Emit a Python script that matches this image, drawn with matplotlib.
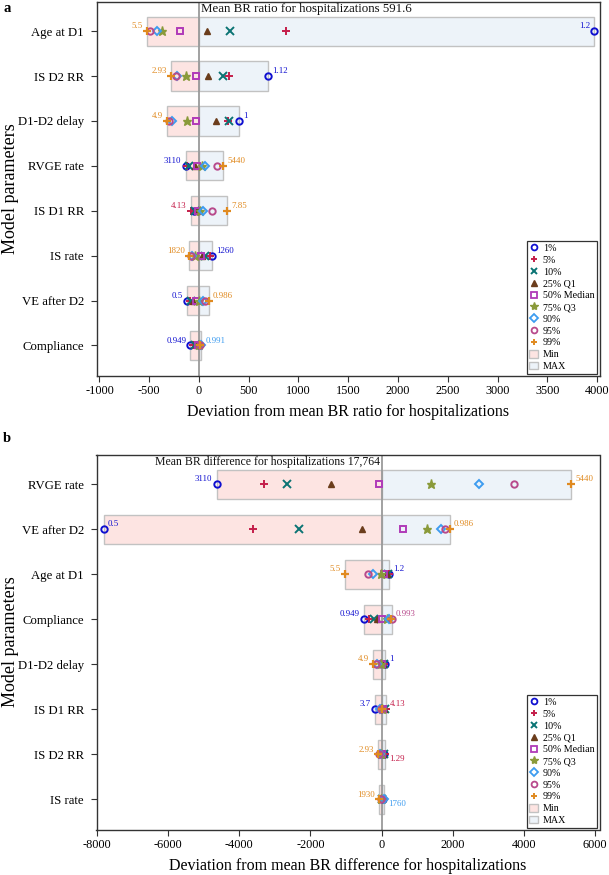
import matplotlib
matplotlib.use('Agg')
import matplotlib.pyplot as plt
from matplotlib.lines import Line2D
from matplotlib.patches import Patch
import numpy as np

plt.rcParams['font.family'] = ['Liberation Serif', 'DejaVu Serif']

# ---------------- data ----------------
pct_names = ["1%", "5%", "10%", "25% Q1", "50% Median", "75% Q3", "90%", "95%", "99%"]
pct_colors = ["#1010d0", "#c41e4a", "#0b7474", "#6b3d1c", "#b03ab8",
              "#8a9a3a", "#3d9cf0", "#b84a8c", "#e08a20"]
pct_markers = ['o', '+', 'x', '^', 's', '*', 'D', 'o', '+']

# Panel a : deviation from mean BR ratio
cats_a = ["Age at D1", "IS D2 RR", "D1-D2 delay", "RVGE rate",
          "IS D1 RR", "IS rate", "VE after D2", "Compliance"]
age_a = [3970, 871, 315, 83, -191, -375, -422, -490, -526]
isd2_a = [690, 305, 238, 94, -27, -131, -225, -231, -281]
delay_a = [399, 295, 305, 174, -27, -124, -271, -300, -318]
rvge_a = [-134, -118, -97, -40, -17, 30, 57, 184, 245]
isd1_a = [-50, -80, -40, -25, -10, 15, 37, 134, 285]
israte_a = [128, 112, 60, 30, 20, -45, -70, -80, -100]
ve_a = [-124, -95, -80, -65, -35, 0, 40, 65, 100]
compl_a = [-87, -57, -40, -25, -10, 0, 25, 15, 10]
vals_a = [age_a, isd2_a, delay_a, rvge_a, isd1_a, israte_a, ve_a, compl_a]
left_labels_a = ["5.5", "2.93", "4.9", "3110", "4.13", "1820", "0.5", "0.949"]
right_labels_a = ["1.2", "1.12", "1", "5440", "7.85", "1260", "0.986", "0.991"]
right_pos_a = ["up"] * 8
mean_text_a = "Mean BR ratio for hospitalizations 591.6"
xticks_a = list(range(-1000, 4001, 500))
xlim_a = (-1030, 4025)
xlabel_a = "Deviation from mean BR ratio for hospitalizations"

# Panel b : deviation from mean BR difference
cats_b = ["RVGE rate", "VE after D2", "Age at D1", "Compliance",
          "D1-D2 delay", "IS D1 RR", "IS D2 RR", "IS rate"]
rvge_b = [-4635, -3297, -2671, -1426, -70, 1380, 2736, 3709, 5337]
ve_b = [-7814, -3605, -2315, -547, 595, 1285, 1669, 1773, 1913]
age_b = [210, 200, 191, 154, 70, -22, -230, -379, -1024]
compl_b = [-491, -351, -210, -117, 23, 154, 210, 285, 260]
delay_b = [90, 70, 55, 35, 10, -20, -140, -170, -239]
isd1_b = [-191, 117, 95, 70, 40, 10, -40, -10, 25]
isd2_b = [60, 90, 70, 40, 15, -10, -40, -60, -107]
israte_b = [40, 30, 20, 10, 0, -10, 70, -30, -62]
vals_b = [rvge_b, ve_b, age_b, compl_b, delay_b, isd1_b, isd2_b, israte_b]
left_labels_b = ["3110", "0.5", "5.5", "0.949", "4.9", "3.7", "2.93", "1930"]
right_labels_b = ["5440", "0.986", "1.2", "0.993", "1", "4.13", "1.29", "1760"]
right_pos_b = ["up", "up", "up", "up", "up", "up", "down", "down"]
mean_text_b = "Mean BR difference for hospitalizations 17,764"
xticks_b = list(range(-8000, 6001, 2000))
xlim_b = (-8015, 6126)
xlabel_b = "Deviation from mean BR difference for hospitalizations"

MIN_COLOR = "#fde4e2"
MAX_COLOR = "#edf3f9"
BAR_EDGE = "#c2c2c2"

W, H = 609, 875
fig = plt.figure(figsize=(W / 100, H / 100), dpi=100)


def px_axes(left, top, right, bottom):
    return [left / W, 1 - bottom / H, (right - left) / W, (bottom - top) / H]


def draw_panel(ax, cats, vals, left_labels, right_labels, right_pos,
               mean_text, mean_side, mean_size, xticks, xlim, xlabel):
    n = len(cats)
    y = np.arange(n)
    ax.set_xlim(*xlim)
    ax.set_ylim(n - 1 + 0.68, -0.65)
    fig.canvas.draw()
    for i, v in enumerate(vals):
        vmin, vmax = min(v), max(v)
        ax.barh(i, vmin, left=0, height=0.65, color=MIN_COLOR,
                edgecolor=BAR_EDGE, linewidth=1.0, zorder=1)
        ax.barh(i, vmax, left=0, height=0.65, color=MAX_COLOR,
                edgecolor=BAR_EDGE, linewidth=1.0, zorder=1)
    ax.axvline(0, color="#9a9a9a", lw=1.3, zorder=2)
    for j in range(9):
        xs = [v[j] for v in vals]
        m = pct_markers[j]
        kw = dict(linestyle='none', marker=m, zorder=3 + j * 0.01)
        if m in ('o', 's', 'D'):
            ms = 4.6 if m != 'D' else 4.2
            ax.plot(xs, y, markerfacecolor='none', markeredgecolor=pct_colors[j],
                    markersize=ms, markeredgewidth=1.4, **kw)
        elif m in ('+', 'x'):
            ax.plot(xs, y, color=pct_colors[j], markersize=5.5,
                    markeredgewidth=1.6 if j == 8 else 1.4, **kw)
        elif m == '^':
            ax.plot(xs, y, color=pct_colors[j], markersize=5, **kw)
        else:
            ax.plot(xs, y, color=pct_colors[j], markersize=6.5, **kw)
    # value labels
    bb = ax.get_window_extent()
    for i, v in enumerate(vals):
        jmin = int(np.argmin(v))
        jmax = int(np.argmax(v))
        xmin_px = ax.transData.transform((v[jmin], i))[0]
        xmax_px = ax.transData.transform((v[jmax], i))[0]
        if xmin_px - bb.x0 < 25:
            off, ha = 3, 'left'
        else:
            off, ha = -3, 'right'
        ax.annotate(left_labels[i], xy=(v[jmin], i), xytext=(off, 3.5),
                    textcoords='offset points', ha=ha, va='center',
                    fontsize=6.4, color=pct_colors[jmin], zorder=5)
        if bb.x1 - xmax_px < 25:
            off, ha = -3, 'right'
        else:
            off, ha = 3, 'left'
        dy = 3.5 if right_pos[i] == 'up' else -3.5
        ax.annotate(right_labels[i], xy=(v[jmax], i), xytext=(off, dy),
                    textcoords='offset points', ha=ha, va='center',
                    fontsize=6.4, color=pct_colors[jmax], zorder=5)
    # mean text
    if mean_side == 'right':
        ax.annotate(mean_text, xy=(0, 1), xycoords=('data', 'axes fraction'),
                    xytext=(1.5, -4.8), textcoords='offset points',
                    ha='left', va='center', fontsize=mean_size, color='#111111')
    else:
        ax.annotate(mean_text, xy=(0, 1), xycoords=('data', 'axes fraction'),
                    xytext=(-1.5, -4.8), textcoords='offset points',
                    ha='right', va='center', fontsize=mean_size, color='#111111')
    ax.set_yticks(y)
    ax.set_yticklabels(cats, fontsize=9.2)
    ax.set_xticks(xticks)
    ax.set_xticklabels([str(t) for t in xticks], fontsize=8.8)
    ax.tick_params(axis='both', direction='out', length=4, width=0.8,
                   color='#333333', pad=2.5)
    ax.tick_params(axis='y', pad=5)
    ax.set_xlabel(xlabel, fontsize=11.5, labelpad=5)
    for s in ax.spines.values():
        s.set_color('#333333')
        s.set_linewidth(1.0)
    handles = []
    for j in range(9):
        m = pct_markers[j]
        if m in ('o', 's', 'D'):
            h = Line2D([], [], linestyle='none', marker=m, markerfacecolor='none',
                       markeredgecolor=pct_colors[j], markersize=4.2 if m != 'D' else 3.8,
                       markeredgewidth=1.3)
        elif m == '*':
            h = Line2D([], [], linestyle='none', marker=m, color=pct_colors[j], markersize=6)
        elif m == '^':
            h = Line2D([], [], linestyle='none', marker=m, color=pct_colors[j], markersize=4.5)
        else:
            h = Line2D([], [], linestyle='none', marker=m, color=pct_colors[j],
                       markersize=5, markeredgewidth=1.4)
        handles.append(h)
    handles.append(Patch(facecolor=MIN_COLOR, edgecolor=BAR_EDGE))
    handles.append(Patch(facecolor=MAX_COLOR, edgecolor=BAR_EDGE))
    labels = pct_names + ["Min", "MAX"]
    leg = ax.legend(handles, labels, loc='lower right', fontsize=7.2,
                    frameon=True, fancybox=False, framealpha=1,
                    edgecolor='#333333', borderpad=0.25, labelspacing=0.25,
                    handlelength=0.9, handletextpad=0.45, handleheight=0.8,
                    borderaxespad=0.25)
    leg.get_frame().set_linewidth(0.9)
    leg.set_zorder(10)


ax_a = fig.add_axes(px_axes(96.5, 2, 599.5, 376))
draw_panel(ax_a, cats_a, vals_a, left_labels_a, right_labels_a, right_pos_a,
           mean_text_a, 'right', 9.3, xticks_a, xlim_a, xlabel_a)

ax_b = fig.add_axes(px_axes(96.5, 455, 599.5, 830))
draw_panel(ax_b, cats_b, vals_b, left_labels_b, right_labels_b, right_pos_b,
           mean_text_b, 'left', 8.5, xticks_b, xlim_b, xlabel_b)

fig.text(11 / W, 1 - 189 / H, "Model parameters", rotation=90, ha='center',
         va='center', fontsize=13)
fig.text(11 / W, 1 - 642 / H, "Model parameters", rotation=90, ha='center',
         va='center', fontsize=13)
fig.text(3 / W, 1 - 8 / H, "a", fontsize=10.5, fontweight='bold', ha='left', va='center')
fig.text(3 / W, 1 - 438 / H, "b", fontsize=10.5, fontweight='bold', ha='left', va='center')

fig.savefig("out.png", dpi=100)
